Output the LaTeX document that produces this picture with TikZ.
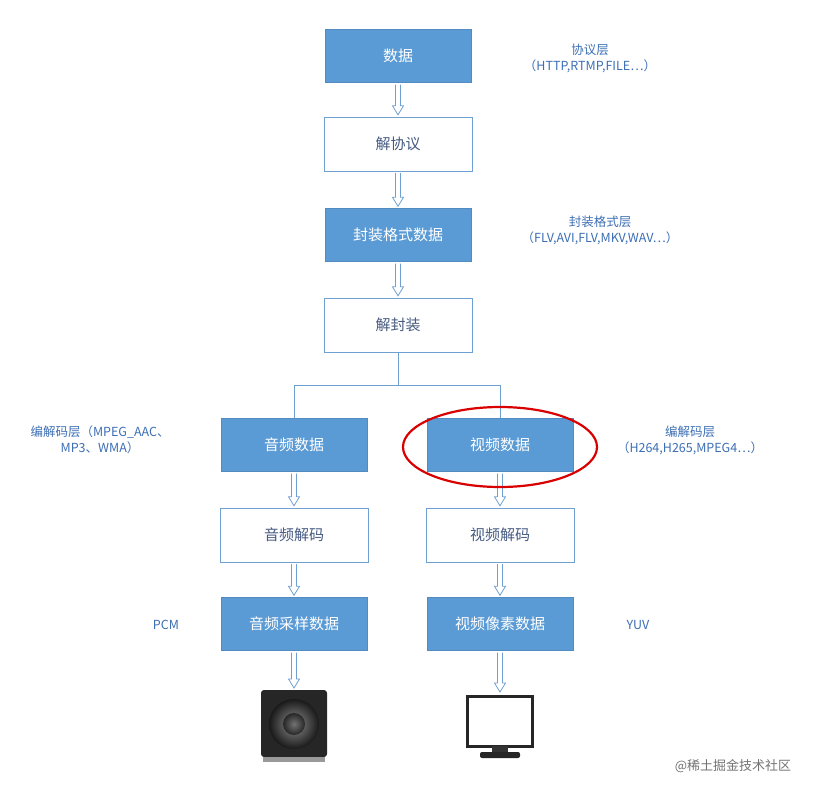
\documentclass[tikz,border=0pt]{standalone}
\usepackage{fontspec}
\setmainfont{Noto Sans CJK SC}
\usetikzlibrary{calc}
\definecolor{fillb}{RGB}{91,155,213}
\definecolor{lineb}{RGB}{110,160,210}
\definecolor{txtb}{RGB}{60,110,180}
\definecolor{dtxt}{RGB}{70,90,130}
\tikzset{
 filled/.style={draw=fillb!90!black, fill=fillb, minimum width=146pt, minimum height=53pt, text=white, font=\fontsize{15}{18}\selectfont, inner sep=0pt},
 hollow/.style={draw=lineb, fill=white, minimum width=148pt, minimum height=54pt, text=dtxt, font=\fontsize{15}{18}\selectfont, inner sep=0pt},
 hline/.style={draw=lineb, line width=0.8pt, line join=miter},
 lbl/.style={text=txtb, font=\fontsize{12.5}{16}\selectfont, align=center},
 conn/.style={draw=lineb, line width=1pt}
}
\newcommand\harr[2]{\draw[hline] ($(#1)+(-2.5,2)$) -- ($(#2)+(-2.5,-11)$) -- ($(#2)+(-5.5,-11)$) -- ($(#2)+(0,-2)$) -- ($(#2)+(5.5,-11)$) -- ($(#2)+(2.5,-11)$) -- ($(#1)+(2.5,2)$);}
\begin{document}
\begin{tikzpicture}[x=1pt,y=-1pt]
\useasboundingbox (0,0) rectangle (830,795);
\node[filled] (d) at (398,56) {数据};
\node[hollow] (jx) at (398,144) {解协议};
\node[filled] (fz) at (398,235) {封装格式数据};
\node[hollow] (jf) at (398,325) {解封装};
\node[filled] (ay) at (294,445) {音频数据};
\node[hollow] (ayj) at (294,535) {音频解码};
\node[filled] (ayc) at (294,624) {音频采样数据};
\node[filled] (sp) at (500,445) {视频数据};
\node[hollow] (spj) at (500,535) {视频解码};
\node[filled] (spx) at (500,624) {视频像素数据};
\harr{d.south}{jx.north}
\harr{jx.south}{fz.north}
\harr{fz.south}{jf.north}
\harr{ay.south}{ayj.north}
\harr{ayj.south}{ayc.north}
\harr{sp.south}{spj.north}
\harr{spj.south}{spx.north}
\coordinate (br) at (398,385);
\draw[conn] (jf.south) -- (br);
\draw[conn] (ay.north) -- (ay.north |- br) -- (sp.north |- br) -- (sp.north);
\draw[red!85!black, line width=2.2pt] (500,447) ellipse (97pt and 40pt);
\node[lbl] (l1) at (590,58) {协议层\\（HTTP,RTMP,FILE…）};
\node[lbl] (l2) at (600,230) {封装格式层\\（FLV,AVI,FLV,MKV,WAV…）};
\node[lbl] (l3) at (100,440) {编解码层（MPEG\_AAC、\\MP3、WMA）};
\node[lbl] (l4) at (690,440) {编解码层\\（H264,H265,MPEG4…）};
\node[lbl] (l5) at (166,625) {PCM};
\node[lbl] (l6) at (638,625) {YUV};
% speaker
\coordinate (spk) at (294,690);
\harr{ayc.south}{spk}
\fill[black!85, rounded corners=3pt] (261,690) rectangle (327,757);
\fill[black!40] (263,757) rectangle (325,762);
\shade[inner color=black!45, outer color=black!90] (294,724) circle (25pt);
\shade[inner color=black!55, outer color=black!85] (294,724) circle (11pt);
% monitor
\coordinate (mon) at (500,694);
\harr{spx.south}{mon}
\draw[black!85, line width=3pt, fill=white] (467,696) rectangle (532,746);
\fill[black!80] (492,746) rectangle (508,753);
\fill[black!85, rounded corners=2pt] (480,752) rectangle (520,758);
\node[text=black!55, font=\fontsize{13}{16}\selectfont] (wm) at (733,766) {@稀土掘金技术社区};
\end{tikzpicture}
\end{document}
